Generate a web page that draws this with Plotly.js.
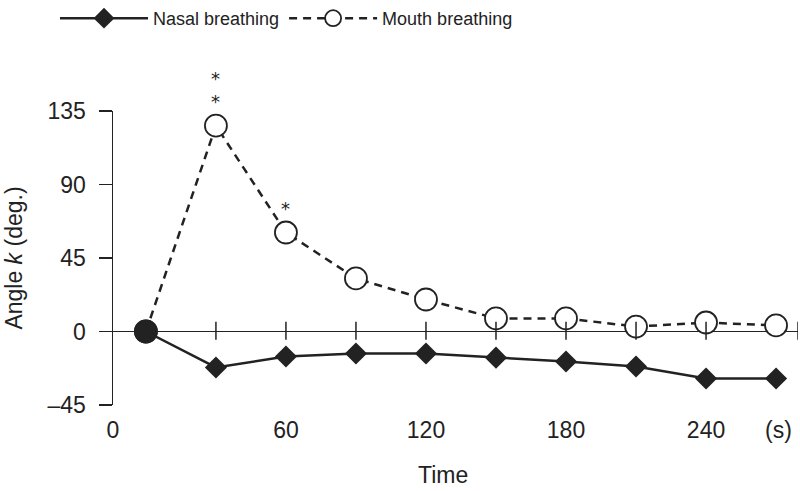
<!DOCTYPE html>
<html>
<head>
<meta charset="utf-8">
<script src="https://cdn.plot.ly/plotly-3.0.1.min.js"></script>
<style>html,body{margin:0;padding:0;background:#fff;}#chart{width:800px;height:491px;}</style>
</head>
<body>
<div id="chart"></div>
<script>
// Data
const time = [0, 30, 60, 90, 120, 150, 180, 210, 240, 270];
const nasal = [0, -22, -15.3, -13.5, -13.5, -16, -18.4, -21.4, -28.8, -28.8];
const mouth = [0, 126, 60.6, 32.5, 19.6, 8, 8, 3, 5.5, 3.7];
const yTicks = [-45, 0, 45, 90, 135];
const yTickText = ['\u201345', '0', '45', '90', '135'];
const xMin = -14.1, xMax = 279.4;
const xTickVals = [xMin, 60, 120, 180, 240, 271];
const xTickText = ['0', '60', '120', '180', '240', '(s)'];
const zeroLineTicks = [30, 60, 90, 120, 150, 180, 210, 240, xMax];
const sigIdx = [1, 2];
const sigText = ['*<br>*', '*'];

const ink = '#222';
const fontTick = {family: 'Liberation Sans, Arial, sans-serif', size: 23, color: ink};
const fontLegend = {family: 'Liberation Sans, Arial, sans-serif', size: 18, color: ink};

const traces = [
  {
    x: time, y: nasal, name: 'Nasal breathing', type: 'scatter', mode: 'lines+markers',
    line: {color: ink, width: 2.5},
    marker: {symbol: 'diamond', size: 17, color: ink},
    cliponaxis: false
  },
  {
    x: time, y: mouth, name: 'Mouth breathing', type: 'scatter', mode: 'lines+markers',
    line: {color: ink, width: 2.5, dash: '8px,6px'},
    marker: {symbol: 'circle', size: 22, color: '#fff', line: {color: ink, width: 1.8}},
    cliponaxis: false
  },
  {
    // shared baseline point drawn filled, as in the reference
    x: [time[0]], y: [mouth[0]], type: 'scatter', mode: 'markers', showlegend: false,
    marker: {symbol: 'circle', size: 22, color: ink, line: {color: ink, width: 1.8}},
    cliponaxis: false
  }
];

const shapes = zeroLineTicks.map(t => ({
  type: 'line', xref: 'x', yref: 'y', x0: t, x1: t, y0: -5, y1: 6,
  line: {color: ink, width: 1.5}
}));

const annotations = sigIdx.map((k, j) => ({
  x: time[k], y: mouth[k], xref: 'x', yref: 'y', text: sigText[j], showarrow: false,
  yanchor: 'bottom', yshift: 12, font: {family: 'DejaVu Sans, sans-serif', size: 18, color: ink}
}));
annotations.push({
  xref: 'paper', yref: 'paper', x: 0.482, y: (405 - 475) / 294, yanchor: 'middle', text: 'Time', showarrow: false,
  font: {family: 'Liberation Sans, Arial, sans-serif', size: 23, color: ink}
});

const layout = {
  width: 800, height: 491,
  margin: {l: 113, r: 2, t: 111, b: 86},
  paper_bgcolor: '#fff', plot_bgcolor: '#fff',
  showlegend: true,
  legend: {
    orientation: 'h', xref: 'container', yref: 'container', x: 55/800, y: 1,
    xanchor: 'left', yanchor: 'top', itemwidth: 88, font: fontLegend, bgcolor: 'rgba(0,0,0,0)',
    tracegroupgap: 0
  },
  xaxis: {
    range: [xMin, xMax], showgrid: false, zeroline: false, showline: false,
    tickmode: 'array', tickvals: xTickVals, ticktext: xTickText,
    ticks: 'outside', ticklen: 4, tickcolor: 'rgba(0,0,0,0)', tickfont: fontTick
  },
  yaxis: {
    range: [-45, 135], showgrid: false, showline: true, linecolor: ink, linewidth: 1.5,
    zeroline: true, zerolinecolor: ink, zerolinewidth: 1.5,
    tickmode: 'array', tickvals: yTicks, ticktext: yTickText,
    ticks: 'outside', ticklen: 13, tickwidth: 1.5, tickcolor: ink, tickfont: fontTick,
    ticklabelstandoff: 8,
    title: {text: 'Angle <i>k</i> (deg.)', font: {family: 'Liberation Sans, Arial, sans-serif', size: 23, color: ink}, standoff: 18}
  },
  shapes: shapes,
  annotations: annotations
};

Plotly.newPlot('chart', traces, layout, {displayModeBar: false, staticPlot: true});
</script>
</body>
</html>
